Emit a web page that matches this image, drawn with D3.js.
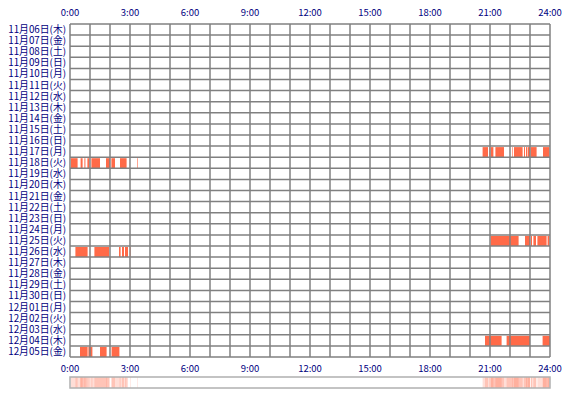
<!DOCTYPE html>
<html><head><meta charset="utf-8">
<script src="https://cdn.jsdelivr.net/npm/d3@7"></script>
<style>body{margin:0;background:#fff}text{font-family:"Noto Sans CJK JP",sans-serif}</style>
</head><body>
<svg id="chart" width="570" height="400"></svg>
<script>
var days = ["11月06日(木)","11月07日(金)","11月08日(土)","11月09日(日)","11月10日(月)","11月11日(火)","11月12日(水)","11月13日(木)","11月14日(金)","11月15日(土)","11月16日(日)","11月17日(月)","11月18日(火)","11月19日(水)","11月20日(木)","11月21日(金)","11月22日(土)","11月23日(日)","11月24日(月)","11月25日(火)","11月26日(水)","11月27日(木)","11月28日(金)","11月29日(土)","11月30日(日)","12月01日(月)","12月02日(火)","12月03日(水)","12月04日(木)","12月05日(金)"];
var hourTicks = [0, 3, 6, 9, 12, 15, 18, 21, 24];
// activity segments: [day index, start hour, end hour]
var sessions = [
  [11, 20.63, 20.9], [11, 20.97, 21.0], [11, 21.03, 21.17], [11, 21.27, 21.7], [11, 22.1, 22.13],
  [11, 22.2, 22.63], [11, 22.7, 22.75], [11, 22.8, 22.87], [11, 22.9, 23.0], [11, 23.03, 23.33], [11, 23.65, 23.97],
  [12, 0.05, 0.38], [12, 0.53, 0.63], [12, 0.72, 0.77], [12, 0.87, 0.97], [12, 1.07, 1.5], [12, 1.8, 2.0],
  [12, 2.07, 2.25], [12, 2.5, 2.83], [12, 3.37, 3.4],
  [19, 21.03, 22.43], [19, 22.75, 23.0], [19, 23.05, 23.1], [19, 23.17, 23.3], [19, 23.37, 23.83], [19, 23.88, 23.97],
  [20, 0.27, 0.88], [20, 1.22, 1.95], [20, 2.45, 2.53], [20, 2.6, 2.7], [20, 2.75, 2.9], [20, 3.02, 3.05],
  [28, 20.75, 21.58], [28, 21.83, 23.0], [28, 23.63, 24.0],
  [29, 0.5, 0.88], [29, 0.92, 1.12], [29, 1.5, 1.83], [29, 2.08, 2.47]
];

var svg = d3.select("#chart");
var gLeft = 70, gRight = 550, gTop = 24, rowH = 11.1;
var x = d3.scaleLinear().domain([0, 24]).range([gLeft, gRight]);
var y = d3.scaleBand().domain(days).range([gTop, gTop + rowH * days.length]);
var gBottom = gTop + rowH * days.length;

svg.selectAll("rect.s").data(sessions).enter().append("rect").attr("class", "s")
  .attr("x", function(d) { return x(d[1]); })
  .attr("y", function(d) { return y(days[d[0]]) + 1; })
  .attr("width", function(d) { return x(d[2]) - x(d[1]); })
  .attr("height", y.bandwidth() - 1)
  .attr("fill", "#ff6a48");

var grid = svg.append("g").attr("stroke", "#808080").attr("stroke-width", 1.5);
grid.selectAll("line.v").data(d3.range(25)).enter().append("line")
  .attr("x1", function(d) { return x(d); }).attr("x2", function(d) { return x(d); })
  .attr("y1", gTop).attr("y2", gBottom);
grid.selectAll("line.h").data(d3.range(days.length + 1)).enter().append("line")
  .attr("x1", gLeft).attr("x2", gRight)
  .attr("y1", function(d) { return gTop + d * rowH; }).attr("y2", function(d) { return gTop + d * rowH; });

svg.selectAll("text.day").data(days).enter().append("text")
  .attr("x", 66).attr("y", function(d) { return y(d) + y.bandwidth() / 2 + 3.5; })
  .attr("text-anchor", "end").attr("font-size", 9.8).attr("fill", "#000080").text(function(d) { return d; });

[16, 372].forEach(function(ty) {
  svg.selectAll(null).data(hourTicks).enter().append("text")
    .attr("x", function(d) { return x(d); }).attr("y", ty)
    .attr("text-anchor", "middle").attr("font-size", 9.5).attr("fill", "#000080")
    .text(function(d) { return d + ":00"; });
});

// overview strip
var strip = svg.append("g");
strip.selectAll("rect").data(sessions).enter().append("rect")
  .attr("x", function(d) { return x(d[1]); }).attr("y", 377)
  .attr("width", function(d) { return x(d[2]) - x(d[1]); }).attr("height", 11)
  .attr("fill", "#ff6a48").attr("opacity", 0.22);
strip.append("rect").attr("x", gLeft).attr("y", 377).attr("width", gRight - gLeft).attr("height", 11)
  .attr("fill", "none").attr("stroke", "#b0b0b0").attr("stroke-width", 1.5);
</script>
</body></html>
